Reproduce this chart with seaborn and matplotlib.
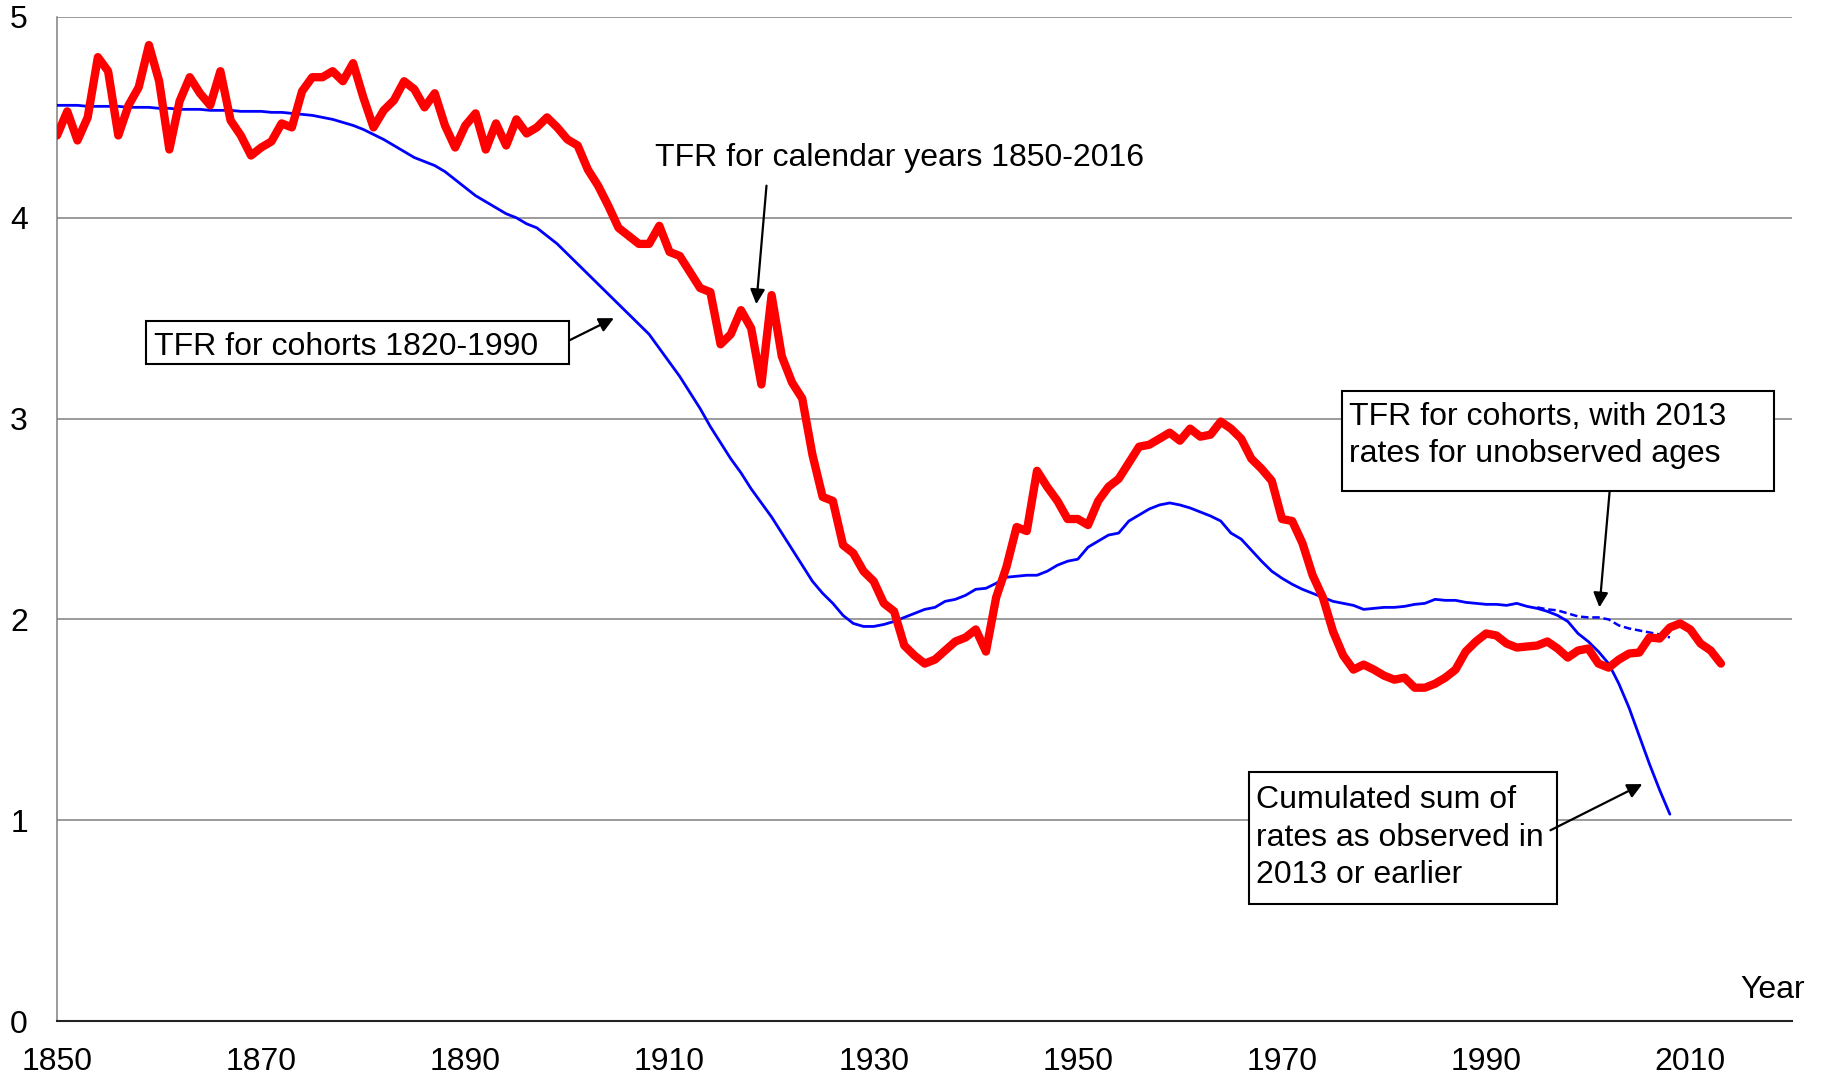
import numpy as np
import pandas as pd
import matplotlib
matplotlib.use("Agg")
import matplotlib.pyplot as plt
from matplotlib.patches import Rectangle
import seaborn as sns

# TFR for calendar years (red), 1850-2013
period_years = list(range(1850, 2014))
period_tfr = [
    4.41, 4.53, 4.385, 4.50, 4.80, 4.73, 4.41, 4.56, 4.65, 4.86,   # 1850s
    4.68, 4.34, 4.58, 4.70, 4.62, 4.56, 4.73, 4.485, 4.41, 4.31,   # 1860s
    4.35, 4.38, 4.47, 4.45, 4.63, 4.70, 4.70, 4.73, 4.68, 4.77,    # 1870s
    4.60, 4.45, 4.535, 4.585, 4.68, 4.64, 4.55, 4.62, 4.46, 4.35,  # 1880s
    4.46, 4.52, 4.34, 4.47, 4.36, 4.49, 4.42, 4.45, 4.50, 4.45,    # 1890s
    4.39, 4.36, 4.24, 4.16, 4.06, 3.95, 3.91, 3.87, 3.87, 3.96,    # 1900s
    3.83, 3.81, 3.73, 3.65, 3.63, 3.37, 3.42, 3.54, 3.45, 3.17,    # 1910s
    3.615, 3.31, 3.18, 3.10, 2.82, 2.61, 2.59, 2.37, 2.33, 2.24,   # 1920s
    2.19, 2.08, 2.04, 1.87, 1.82, 1.78, 1.80, 1.845, 1.89, 1.91,   # 1930s
    1.95, 1.84, 2.11, 2.26, 2.46, 2.44, 2.74, 2.66, 2.59, 2.50,    # 1940s
    2.50, 2.47, 2.59, 2.66, 2.70, 2.78, 2.86, 2.87, 2.90, 2.93,    # 1950s
    2.89, 2.95, 2.91, 2.92, 2.985, 2.95, 2.90, 2.80, 2.75, 2.69,   # 1960s
    2.50, 2.49, 2.38, 2.22, 2.11, 1.94, 1.82, 1.75, 1.775, 1.75,   # 1970s
    1.72, 1.70, 1.71, 1.66, 1.66, 1.68, 1.71, 1.75, 1.84, 1.89,    # 1980s
    1.93, 1.92, 1.88, 1.86, 1.865, 1.87, 1.89, 1.855, 1.81, 1.845, # 1990s
    1.855, 1.78, 1.76, 1.80, 1.83, 1.835, 1.91, 1.905, 1.96, 1.98, # 2000s
    1.95, 1.88, 1.845, 1.78,                                       # 2010-2013
]

# cohort TFR (blue), plotted at the cohort's childbearing years 1850-2008
cohort_years = list(range(1850, 2009))
cohort_tfr = [
    4.56, 4.56, 4.56, 4.555, 4.555, 4.555, 4.555, 4.55, 4.55, 4.55,
    4.545, 4.545, 4.54, 4.54, 4.54, 4.535, 4.535, 4.535, 4.53, 4.53,
    4.53, 4.525, 4.525, 4.52, 4.515, 4.51, 4.50, 4.49, 4.475, 4.46,
    4.44, 4.415, 4.39, 4.36, 4.33, 4.30, 4.28, 4.26, 4.23, 4.19,
    4.15, 4.11, 4.08, 4.05, 4.02, 4.00, 3.97, 3.95, 3.91, 3.87,
    3.82, 3.77, 3.72, 3.67, 3.62, 3.57, 3.52, 3.47, 3.42, 3.35,
    3.28, 3.21, 3.13, 3.05, 2.96, 2.88, 2.80, 2.73, 2.65, 2.58,
    2.51, 2.43, 2.35, 2.27, 2.19, 2.13, 2.08, 2.02, 1.98, 1.965,
    1.965, 1.975, 1.99, 2.01, 2.03, 2.05, 2.06, 2.09, 2.10, 2.12,
    2.15, 2.155, 2.18, 2.21, 2.215, 2.22, 2.22, 2.24, 2.27, 2.29,
    2.30, 2.36, 2.39, 2.42, 2.43, 2.49, 2.52, 2.55, 2.57, 2.58,
    2.57, 2.555, 2.535, 2.515, 2.49, 2.43, 2.40, 2.345, 2.29, 2.24,
    2.205, 2.175, 2.15, 2.13, 2.11, 2.09, 2.08, 2.07, 2.05, 2.055,
    2.06, 2.06, 2.065, 2.075, 2.08, 2.10, 2.095, 2.095, 2.085, 2.08,
    2.075, 2.075, 2.07, 2.08, 2.065, 2.055, 2.04, 2.02, 1.99, 1.93,
    1.89, 1.84, 1.78, 1.68, 1.56, 1.42, 1.28, 1.15, 1.03,
]

# cohort TFR completed with 2013 rates for unobserved ages (dashed)
completed_years = list(range(1995, 2009))
completed_tfr = [2.06, 2.05, 2.045, 2.03, 2.015, 2.01, 2.01, 2.0,
                 1.97, 1.955, 1.945, 1.935, 1.925, 1.91]

period = pd.DataFrame({"year": period_years, "tfr": period_tfr})
cohort = pd.DataFrame({"year": cohort_years, "tfr": cohort_tfr})
completed = pd.DataFrame({"year": completed_years, "tfr": completed_tfr})

sns.set_style("white")
plt.rcParams["font.family"] = ["Liberation Sans", "DejaVu Sans"]
plt.rcParams["text.color"] = "black"

fig = plt.figure(figsize=(18.23, 10.74), dpi=100)
ax = fig.add_axes([0.0313, 0.0493, 0.9519, 0.9349])

grid_col = "#808080"
for v in range(1, 6):
    ax.axhline(v, color=grid_col, lw=1.1, zorder=0)

sns.lineplot(data=completed, x="year", y="tfr", ax=ax, color="#0000ff",
             lw=1.8, linestyle=(0, (3, 1.5)), zorder=2)
sns.lineplot(data=cohort, x="year", y="tfr", ax=ax, color="#0000ff",
             lw=2.0, zorder=3)
sns.lineplot(data=period, x="year", y="tfr", ax=ax, color="#ff0000",
             lw=6.0, zorder=4)

ax.set_xlim(1850, 2020)
ax.set_ylim(0, 5)
ax.set_xticks(range(1850, 2011, 20))
ax.set_yticks(range(0, 6))
ax.set_xlabel("")
ax.set_ylabel("")
ax.tick_params(axis="both", direction="out", length=9, width=1.1,
               color=grid_col, labelcolor="black", labelsize=23, pad=10)
ax.tick_params(axis="y", pad=12)
for side in ["top", "right"]:
    ax.spines[side].set_visible(False)
ax.spines["left"].set_color(grid_col)
ax.spines["left"].set_linewidth(1.1)
ax.spines["bottom"].set_color("#222222")
ax.spines["bottom"].set_linewidth(1.5)

ax.text(1.007, 0.031, "Year", transform=ax.transAxes, ha="right",
        va="center", fontsize=23)

# annotation boxes
def box(x0, x1, y0, y1):
    ax.add_patch(Rectangle((x0, y0), x1 - x0, y1 - y0, fill=True,
                           facecolor="white", edgecolor="black", lw=1.5,
                           zorder=5))

arrow = dict(arrowstyle="-|>", color="black", lw=1.6, mutation_scale=22,
             shrinkA=0, shrinkB=0)

ax.text(1908.6, 4.30, "TFR for calendar years 1850-2016", fontsize=23,
        va="center", ha="left", zorder=6)
ax.annotate("", xy=(1918.5, 3.57), xytext=(1919.5, 4.16),
            arrowprops=arrow, zorder=6)

box(1858.72, 1900.17, 3.272, 3.486)
ax.text(1859.5, 3.355, "TFR for cohorts 1820-1990", fontsize=23,
        va="center", ha="left", zorder=6)
ax.annotate("", xy=(1904.55, 3.50), xytext=(1900.2, 3.39),
            arrowprops=arrow, zorder=6)

box(1975.9, 2018.2, 2.639, 3.137)
ax.text(1976.6, 2.915, "TFR for cohorts, with 2013\nrates for unobserved ages",
        fontsize=23, va="center", ha="left", linespacing=1.33, zorder=6)
ax.annotate("", xy=(2001.1, 2.06), xytext=(2002.1, 2.639),
            arrowprops=arrow, zorder=6)

box(1966.8, 1996.9, 0.583, 1.240)
ax.text(1967.5, 0.912, "Cumulated sum of\nrates as observed in\n2013 or earlier",
        fontsize=23, va="center", ha="left", linespacing=1.33, zorder=6)
ax.annotate("", xy=(2005.3, 1.18), xytext=(1996.3, 0.95),
            arrowprops=arrow, zorder=6)

fig.savefig("out.png", dpi=100)
